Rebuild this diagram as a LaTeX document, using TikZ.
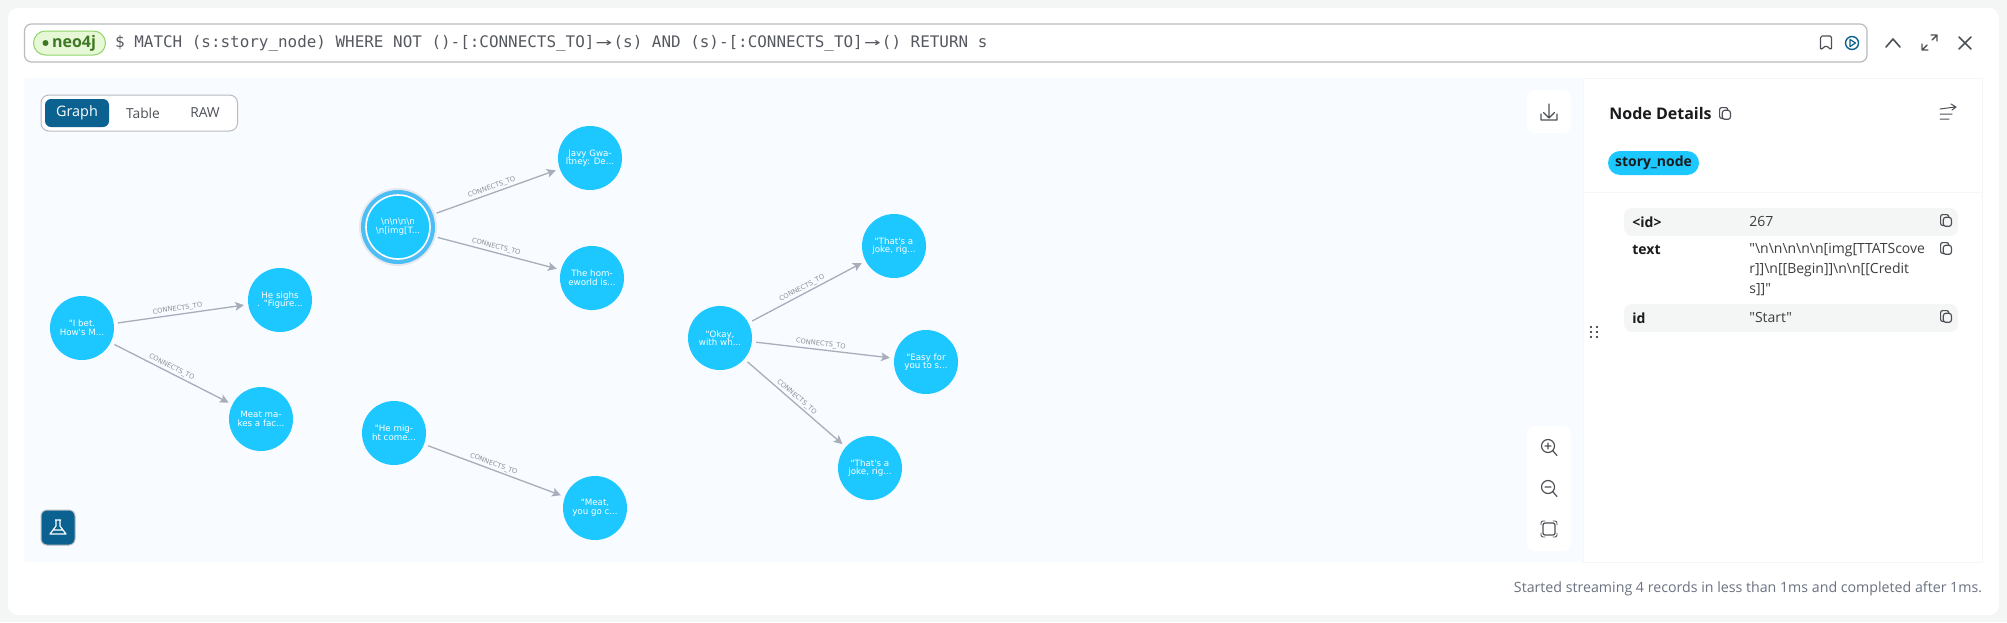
\documentclass[tikz,border=0pt]{standalone}
\usepackage{fontspec}
\setmainfont{Open Sans}[Ligatures=TeXOff]
\newfontfamily\graphfont{DejaVu Sans}
\newfontfamily\queryfont{DejaVu Sans Mono}
\usetikzlibrary{arrows.meta}
\definecolor{pagegrey}{HTML}{F4F6F6}
\definecolor{canvasblue}{HTML}{F8FBFF}
\definecolor{panelline}{HTML}{F5F6F6}
\definecolor{rowgrey}{HTML}{F4F6F5}
\definecolor{boxline}{HTML}{B9BBBE}
\definecolor{nodeblue}{HTML}{1CC8FF}
\definecolor{ringblue}{HTML}{4DBDF5}
\definecolor{edgegrey}{HTML}{A8ADBA}
\definecolor{labelgrey}{HTML}{8E9298}
\definecolor{darkteal}{HTML}{0B6190}
\definecolor{iconink}{HTML}{4D5157}
\definecolor{textink}{HTML}{1A1B1D}
\definecolor{queryink}{HTML}{55595F}
\definecolor{footink}{HTML}{6B7280}
\definecolor{pillgreen}{HTML}{E6F8D6}
\definecolor{pillline}{HTML}{90D46C}
\definecolor{neogreen}{HTML}{3F7824}
\tikzset{
	storynode/.style={circle, fill=nodeblue, text=white, minimum size=32pt, inner sep=0pt, align=center, font=\graphfont\fontsize{4.35}{4.3}\selectfont},
	startnode/.style={storynode, draw=white, line width=.8pt, outer sep=2.5pt, preaction={draw=black, opacity=.07, line width=7pt}, preaction={draw=ringblue, line width=5pt}},
	connector/.style={->, draw=edgegrey, line width=.65pt, shorten <=2pt, shorten >=2pt},
	edgelabel/.style={pos=.48, sloped, above, inner sep=.8pt, text=labelgrey, font=\graphfont\fontsize{3.35}{4}\selectfont},
	tabtext/.style={font=\fontsize{6.9}{8}\selectfont, text=iconink},
	keytext/.style={anchor=west, font=\bfseries\fontsize{7}{10}\selectfont, text=textink},
	valuetext/.style={anchor=north west, align=left, inner sep=0pt, font=\fontsize{7}{10}\selectfont, text=textink!85},
	iconline/.style={draw=iconink, line width=.6pt, line cap=round, line join=round},
	whitebtn/.style={fill=white, rounded corners=4pt},
	copyicon/.pic={
		\draw[iconline, rounded corners=1pt] (-2,6) -- (-6,6) -- (-6,-6) -- (3,-6) -- (3,-3);
		\draw[iconline, rounded corners=1.2pt, fill=none] (-3,-3) rectangle (6,7);
	},
}
\newcommand{\ligarrow}{\makebox[9.58pt]{\scalebox{1.7}[1]{→}}}
\begin{document}
\begin{tikzpicture}[x=.5pt, y=-.5pt, >={Stealth[length=4.4pt,width=4.4pt,inset=1pt]}]
	\useasboundingbox (0,0) rectangle (2007,622);
	\fill[pagegrey] (0,0) rectangle (2007,622);
	\fill[white, rounded corners=5pt] (8,8) rectangle (1999,615);

	\draw[boxline, line width=.6pt, rounded corners=3.5pt] (24.5,24) rectangle (1867,62);
	\node[draw=pillline, fill=pillgreen, line width=.5pt, rounded corners=6pt, minimum width=36pt, minimum height=12pt, inner sep=0pt] (dbpill) at (69.5,43) {};
	\node[inner sep=0pt, text=neogreen, font=\bfseries\fontsize{8}{10}\selectfont] (dbname) at (74,43) {neo4j};
	\fill[neogreen] (45.5,43) circle (1.5pt);
	\node[inner sep=0pt, text=queryink, font=\queryfont\fontsize{7.96}{10}\selectfont] (prompt) at (120,43) {\$};
	\node[anchor=west, inner sep=0pt, text=queryink, font=\queryfont\fontsize{7.96}{10}\selectfont] (query) at (134,43) {MATCH (s:story\_node) WHERE NOT ()-[:CONNECTS\_TO]\ligarrow(s) AND (s)-[:CONNECTS\_TO]\ligarrow() RETURN s};

	\draw[iconline, rounded corners=.8pt] (1820.5,36) -- (1831.5,36) -- (1831.5,50) -- (1826,45.5) -- (1820.5,50) -- cycle;
	\draw[darkteal, line width=.7pt] (1852,43) circle (6.5);
	\draw[darkteal, line width=.6pt, line join=round] (1850,39.5) -- (1855.5,43) -- (1850,46.5) -- cycle;
	\draw[iconline, line width=.8pt] (1886,47) -- (1893,39) -- (1900,47);
	\draw[iconline, line width=.7pt] (1922,50) -- (1927,45) (1922,44) -- (1922,50) -- (1928,50) (1937,35) -- (1932,40) (1931,35) -- (1937,35) -- (1937,41);
	\draw[iconline, line width=.8pt] (1959,37) -- (1971,49) (1971,37) -- (1959,49);

	\fill[canvasblue] (24,78) rectangle (1583,562);
	\draw[panelline, line width=.5pt] (1583,78) rectangle (1982,562);
	\draw[panelline, line width=.5pt] (1583,192) -- (1982,192);

	\draw[boxline, fill=white, line width=.5pt, rounded corners=4pt] (41,95) rectangle (237.5,131);
	\fill[darkteal, rounded corners=3pt] (45,99) rectangle (109,127);
	\node[tabtext, text=white, font=\fontsize{7.2}{8}\selectfont] (graphtab) at (77,113) {Graph};
	\node[tabtext] (tabletab) at (143,113) {Table};
	\node[tabtext] (rawtab) at (205,113) {RAW};

	\node[storynode] (ibet) at (82,328) {"I bet.\\How's M...};
	\node[storynode] (sighs) at (280,300) {He sighs\\. "Figure...};
	\node[storynode] (meatmakes) at (261,419) {Meat ma-\\kes a fac...};
	\node[startnode] (start) at (398,227) {\textbackslash n\textbackslash n\textbackslash n\textbackslash n\\\textbackslash n[img[T...};
	\node[storynode] (javy) at (590,158) {Javy Gwa-\\ltney: De...};
	\node[storynode] (homeworld) at (592,278) {The hom-\\eworld is...};
	\node[storynode] (might) at (394,433) {"He mig-\\ht come...};
	\node[storynode] (meatgo) at (595,508) {"Meat,\\you go c...};
	\node[storynode] (okay) at (720,338) {"Okay,\\with wh...};
	\node[storynode] (jokeone) at (894,246) {"That's a\\joke, rig...};
	\node[storynode] (easy) at (926,362) {"Easy for\\you to s...};
	\node[storynode] (joketwo) at (870,468) {"That's a\\joke, rig...};

	\foreach \src/\dst in {ibet/sighs, ibet/meatmakes, start/javy, start/homeworld, might/meatgo, okay/jokeone, okay/easy, okay/joketwo}
		\draw[connector] (\src) -- node[edgelabel] (\src-\dst) {CONNECTS\_TO} (\dst);

	\draw[fill=white, draw=none, rounded corners=4pt] (1527,90) rectangle (1571,133);
	\draw[iconline] (1549,104) -- (1549,118) (1543.5,112.5) -- (1549,118) -- (1554.5,112.5) (1541,114) -- (1541,118.5) -- (1541,120) -- (1557,120) -- (1557,114);

	\fill[white, rounded corners=4pt] (1527,426) rectangle (1571,551);
	\draw[iconline] (1548,446) circle (6.5) (1553,451) -- (1557,455.5) (1545,446) -- (1551,446) (1548,443) -- (1548,449);
	\draw[iconline] (1548,487) circle (6.5) (1553,492) -- (1557,496.5) (1545,487) -- (1551,487);
	\draw[iconline, rounded corners=1pt] (1543,523) rectangle (1555,535);
	\draw[iconline, line width=.45pt, rounded corners=1pt] (1541,525) -- (1541,521) -- (1545,521) (1553,521) -- (1557,521) -- (1557,525) (1557,533) -- (1557,537) -- (1553,537) (1545,537) -- (1541,537) -- (1541,533);

	\draw[fill=darkteal, draw=boxline, line width=.5pt, rounded corners=3pt] (41,510) rectangle (75,545);
	\draw[white, line width=.6pt, line join=round] (55,520) -- (61,520) (56,520) -- (56,526) -- (50,534) -- (66,534) -- (60,526) -- (60,520) (53,530) -- (63,530);

	\node[anchor=west, inner sep=0pt, text=textink, font=\bfseries\fontsize{8}{10}\selectfont] (detailstitle) at (1609,113) {Node Details};
	\pic[scale=.9] at (1725,113) {copyicon};
	\draw[iconline, line width=.5pt] (1940,109) -- (1955,107) (1951,104) -- (1956,107) -- (1952,110) (1940,114) -- (1952,114) (1940,119) -- (1949,119);

	\node[fill=nodeblue, rounded corners=6pt, minimum width=45.5pt, minimum height=12pt, inner sep=0pt, text=textink, font=\bfseries\fontsize{7}{9}\selectfont] (labelpill) at (1653.5,163) {story\_node};

	\fill[rowgrey, rounded corners=4pt] (1624,208) rectangle (1958,236);
	\fill[rowgrey, rounded corners=4pt] (1624,304) rectangle (1958,332);
	\node[keytext, inner sep=0pt] (keyid) at (1632,222) {<id>};
	\node[keytext, inner sep=0pt] (keytext) at (1632,250) {text};
	\node[keytext, inner sep=0pt] (keyname) at (1632,318) {id};
	\node[valuetext] (valid) at (1749,215.5) {267};
	\node[valuetext] (valtext) at (1749,243) {"\textbackslash n\textbackslash n\textbackslash n\textbackslash n\textbackslash n[img[TTATScove\\r]]\textbackslash n[[Begin]]\textbackslash n\textbackslash n[[Credit\\s]]"};
	\node[valuetext] (valname) at (1749,311.5) {"Start"};
	\foreach \iconrow in {220,248,316}
		\pic[scale=.9] at (1946,\iconrow) {copyicon};
	\foreach \dotx in {1591,1597}
		\foreach \doty in {327,332,337}
			\fill[textink] (\dotx,\doty) circle (.55pt);

	\node[anchor=east, inner sep=0pt, text=footink, font=\fontsize{7.1}{8}\selectfont] (footer) at (1982.5,589) {Started streaming 4 records in less than 1ms and completed after 1ms.};
\end{tikzpicture}
\end{document}
